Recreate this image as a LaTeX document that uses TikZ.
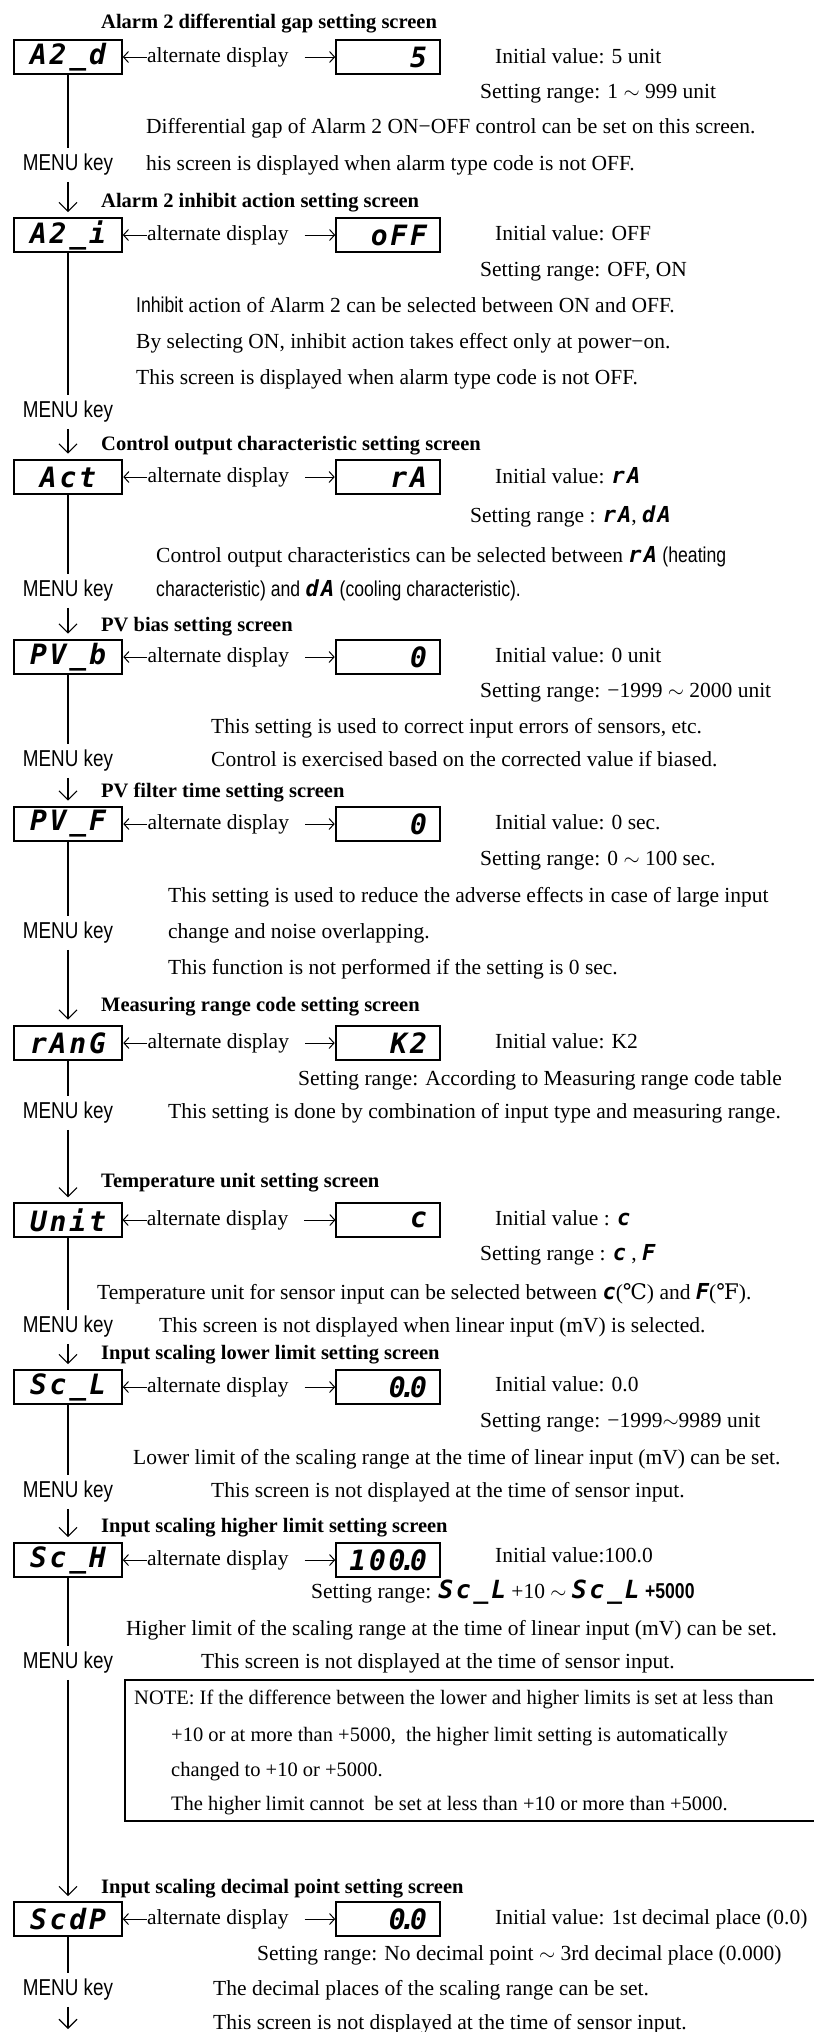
\documentclass[tikz,border=0pt]{standalone}
\usepackage{fontspec}
\setmainfont{Liberation Serif}
\newfontfamily\keyfont[FakeStretch=0.82]{Liberation Sans}
\newfontfamily\segfont[LetterSpace=10]{DejaVu Sans Mono}
\newfontfamily\symfont{DejaVu Serif}
\usetikzlibrary{arrows.meta, positioning}

\newcommand{\bodysize}{\fontsize{21.5}{25}\selectfont}
\newcommand{\segbox}{\segfont\bfseries\itshape\fontsize{28}{30}\selectfont}
\newcommand{\seg}[1]{{\segfont\bfseries\itshape\fontsize{22}{24}\selectfont #1}}
\newcommand{\bigseg}[1]{{\segfont\bfseries\itshape\fontsize{25}{27}\selectfont #1}}
\newcommand{\segdot}{\kern-0.22em.\kern-0.22em}

\tikzset{
  lcd/.style={draw, line width=1.6pt, minimum width=108pt, minimum height=34pt, inner sep=0pt, font=\segbox},
  lcdthick/.style={lcd, line width=2.6pt},
  lcdthin/.style={lcd, line width=1.1pt},
  val/.style={minimum width=104pt, text width=78pt, align=right},
  txt/.style={anchor=west, inner sep=0pt, text height=15pt, text depth=4pt},
  note/.style={txt, font=\fontsize{20.5}{24}\selectfont},
  ttl/.style={txt, font=\fontsize{20.5}{24}\selectfont\bfseries},
  key/.style={font=\keyfont\fontsize{23}{26}\selectfont, inner sep=6pt},
  flow/.style={line width=1.4pt},
  next/.style={flow, -{Straight Barb[length=9pt, width=18pt, line width=1.2pt]}},
  alt/.style={line width=1pt, -{Straight Barb[length=5pt, width=11pt]}}
}

\begin{document}
\begin{tikzpicture}[x=1pt, y=-1pt, font=\bodysize]
\useasboundingbox (0,0) rectangle (814,2032);

    % Alarm 2 differential gap
    \node[ttl] (t1) at (101,23) {Alarm 2 differential gap setting screen};
    \node[lcd] (A2d) at (68,57) {A2\_d};
    \node[lcd, val] (A2dv) at (388,57) {5};
    \node[txt, right=24pt of A2d] (alt1) {alternate display};
    \node[txt] (iv1) at (495,58) {Initial value: 5 unit};
    \node[txt] (sr1) at (480,93) {Setting range: 1 $\sim$ 999 unit};
    \node[txt] (d1a) at (146,128) {Differential gap of Alarm 2 ON−OFF control can be set on this screen.};
    \node[txt] (d1b) at (146,165) {his screen is displayed when alarm type code is not OFF.};
    \node[key] (k1) at (68,165) {MENU key};

    % Alarm 2 inhibit action
    \node[ttl] (t2) at (101,202) {Alarm 2 inhibit action setting screen};
    \node[lcd] (A2i) at (68,235) {A2\_i};
    \node[lcd, val] (A2iv) at (388,235) {oFF};
    \node[txt, right=24pt of A2i] (alt2) {alternate display};
    \node[txt] (iv2) at (495,235) {Initial value: OFF};
    \node[txt] (sr2) at (480,271) {Setting range: OFF, ON};
    \node[txt] (d2a) at (136,307) {{\keyfont Inhibit} action of Alarm 2 can be selected between ON and OFF.};
    \node[txt] (d2b) at (136,343) {By selecting ON, inhibit action takes effect only at power−on.};
    \node[txt] (d2c) at (136,379) {This screen is displayed when alarm type code is not OFF.};
    \node[key] (k2) at (68,412) {MENU key};

    % Control output characteristic
    \node[ttl] (t3) at (101,445) {Control output characteristic setting screen};
    \node[lcdthick] (Act) at (68,477) {Act};
    \node[lcdthick, val] (Actv) at (388,477) {rA};
    \node[txt, right=24pt of Act] (alt3) {alternate display};
    \node[txt] (iv3) at (495,478) {Initial value: \seg{rA}};
    \node[txt] (sr3) at (470,517) {Setting range : \seg{rA}, \seg{dA}};
    \node[txt] (d3a) at (156,557) {Control output characteristics can be selected between \seg{rA} {\keyfont(heating}};
    \node[txt] (d3b) at (156,591) {{\keyfont characteristic) and} \seg{dA} {\keyfont(cooling characteristic).}};
    \node[key] (k3) at (68,591) {MENU key};

    % PV bias
    \node[ttl] (t4) at (101,626) {PV bias setting screen};
    \node[lcdthick] (PVb) at (68,657) {PV\_b};
    \node[lcdthick, val] (PVbv) at (388,657) {0};
    \node[txt, right=24pt of PVb] (alt4) {alternate display};
    \node[txt] (iv4) at (495,657) {Initial value: 0 unit};
    \node[txt] (sr4) at (480,692) {Setting range: −1999 $\sim$ 2000 unit};
    \node[txt] (d4a) at (211,728) {This setting is used to correct input errors of sensors, etc.};
    \node[txt] (d4b) at (211,761) {Control is exercised based on the corrected value if biased.};
    \node[key] (k4) at (68,761) {MENU key};

    % PV filter time
    \node[ttl] (t5) at (101,792) {PV filter time setting screen};
    \node[lcdthick] (PVF) at (68,824) {PV\_F};
    \node[lcdthick, val] (PVFv) at (388,824) {0};
    \node[txt, right=24pt of PVF] (alt5) {alternate display};
    \node[txt] (iv5) at (495,824) {Initial value: 0 sec.};
    \node[txt] (sr5) at (480,860) {Setting range: 0 $\sim$ 100 sec.};
    \node[txt] (d5a) at (168,897) {This setting is used to reduce the adverse effects in case of large input};
    \node[txt] (d5b) at (168,933) {change and noise overlapping.};
    \node[txt] (d5c) at (168,969) {This function is not performed if the setting is 0 sec.};
    \node[key] (k5) at (68,933) {MENU key};

    % Measuring range code
    \node[ttl] (t6) at (101,1006) {Measuring range code setting screen};
    \node[lcdthick] (rAnG) at (68,1043) {rAnG};
    \node[lcdthick, val] (rAnGv) at (388,1043) {K2};
    \node[txt, right=24pt of rAnG] (alt6) {alternate display};
    \node[txt] (iv6) at (495,1043) {Initial value: K2};
    \node[txt] (sr6) at (298,1080) {Setting range: According to Measuring range code table};
    \node[txt] (d6a) at (168,1113) {This setting is done by combination of input type and measuring range.};
    \node[key] (k6) at (68,1113) {MENU key};

    % Temperature unit
    \node[ttl] (t7) at (101,1182) {Temperature unit setting screen};
    \node[lcdthin] (Unit) at (68,1220) {Unit};
    \node[lcdthin, val] (Unitv) at (388,1220) {c};
    \node[txt, right=24pt of Unit] (alt7) {alternate display};
    \node[txt] (iv7) at (495,1220) {Initial value : \seg{c}};
    \node[txt] (sr7) at (480,1255) {Setting range : \seg{c} , \seg{F}};
    \node[txt] (d7a) at (97,1294) {Temperature unit for sensor input can be selected between \seg{c}({\symfont ℃}) and \seg{F}({\symfont ℉}).};
    \node[txt] (d7b) at (159,1327) {This screen is not displayed when linear input (mV) is selected.};
    \node[key] (k7) at (68,1327) {MENU key};

    % Input scaling lower limit
    \node[ttl] (t8) at (101,1354) {Input scaling lower limit setting screen};
    \node[lcd] (ScL) at (68,1387) {Sc\_L};
    \node[lcd, val] (ScLv) at (388,1387) {0\segdot0};
    \node[txt, right=24pt of ScL] (alt8) {alternate display};
    \node[txt] (iv8) at (495,1386) {Initial value: 0.0};
    \node[txt] (sr8) at (480,1422) {Setting range: −1999$\sim$9989 unit};
    \node[txt] (d8a) at (133,1459) {Lower limit of the scaling range at the time of linear input (mV) can be set.};
    \node[txt] (d8b) at (211,1492) {This screen is not displayed at the time of sensor input.};
    \node[key] (k8) at (68,1492) {MENU key};

    % Input scaling higher limit
    \node[ttl] (t9) at (101,1527) {Input scaling higher limit setting screen};
    \node[lcd] (ScH) at (68,1560) {Sc\_H};
    \node[lcd, val] (ScHv) at (388,1560) {100\segdot0};
    \node[txt, right=24pt of ScH] (alt9) {alternate display};
    \node[txt] (iv9) at (495,1557) {Initial value:100.0};
    \node[txt] (sr9) at (311,1593) {Setting range: \bigseg{Sc\_L} +10 $\sim$ \bigseg{Sc\_L} {\keyfont\bfseries +5000}};
    \node[txt] (d9a) at (126,1630) {Higher limit of the scaling range at the time of linear input (mV) can be set.};
    \node[txt] (d9b) at (201,1663) {This screen is not displayed at the time of sensor input.};
    \node[key] (k9) at (68,1663) {MENU key};

    % Note box
    \node[note] (n1) at (134,1699) {NOTE: If the difference between the lower and higher limits is set at less than};
    \node[note] (n2) at (171,1736) {+10 or at more than +5000,\ \ the higher limit setting is automatically};
    \node[note] (n3) at (171,1771) {changed to +10 or +5000.};
    \node[note] (n4) at (171,1805) {The higher limit cannot\ \ be set at less than +10 or more than +5000.};
    \draw[line width=1.1pt] (814,1680) -- (125,1680) -- (125,1821) -- (814,1821);

    % Input scaling decimal point
    \node[ttl] (t10) at (101,1888) {Input scaling decimal point setting screen};
    \node[lcd] (ScdP) at (68,1919) {ScdP};
    \node[lcd, val] (ScdPv) at (388,1919) {0\segdot0};
    \node[txt, right=24pt of ScdP] (alt10) {alternate display};
    \node[txt] (iv10) at (495,1919) {Initial value: 1st decimal place (0.0)};
    \node[txt] (sr10) at (257,1955) {Setting range: No decimal point $\sim$ 3rd decimal place (0.000)};
    \node[txt] (d10a) at (213,1990) {The decimal places of the scaling range can be set.};
    \node[txt] (d10b) at (213,2024) {This screen is not displayed at the time of sensor input.};
    \node[key] (k10) at (68,1990) {MENU key};
    \coordinate (end) at (68,2029);

    % Alternate display arrows
    \foreach \s/\n in {A2d/1, A2i/2, Act/3, PVb/4, PVF/5, rAnG/6, Unit/7, ScL/8, ScH/9, ScdP/10} {
        \draw[alt] (alt\n.west) -- (\s.east);
        \draw[alt] ([xshift=16pt]alt\n.east) -- (\s v.west);
    }

    % MENU key flow
    \draw[flow] (A2d) -- (k1);
    \draw[next] (k1) -- ([yshift=5pt]A2i.north);
    \draw[flow] (A2i) -- (k2);
    \draw[next] (k2) -- ([yshift=5pt]Act.north);
    \draw[flow] (Act) -- (k3);
    \draw[next] (k3) -- ([yshift=5pt]PVb.north);
    \draw[flow] (PVb) -- (k4);
    \draw[next] (k4) -- ([yshift=5pt]PVF.north);
    \draw[flow] (PVF) -- (k5);
    \draw[next] (k5) -- ([yshift=5pt]rAnG.north);
    \draw[flow] (rAnG) -- (k6);
    \draw[next] (k6) -- ([yshift=5pt]Unit.north);
    \draw[flow] (Unit) -- (k7);
    \draw[next] (k7) -- ([yshift=5pt]ScL.north);
    \draw[flow] (ScL) -- (k8);
    \draw[next] (k8) -- ([yshift=5pt]ScH.north);
    \draw[flow] (ScH) -- (k9);
    \draw[next] (k9) -- ([yshift=5pt]ScdP.north);
    \draw[flow] (ScdP) -- (k10);
    \draw[next] (k10) -- (end);

\end{tikzpicture}
\end{document}
